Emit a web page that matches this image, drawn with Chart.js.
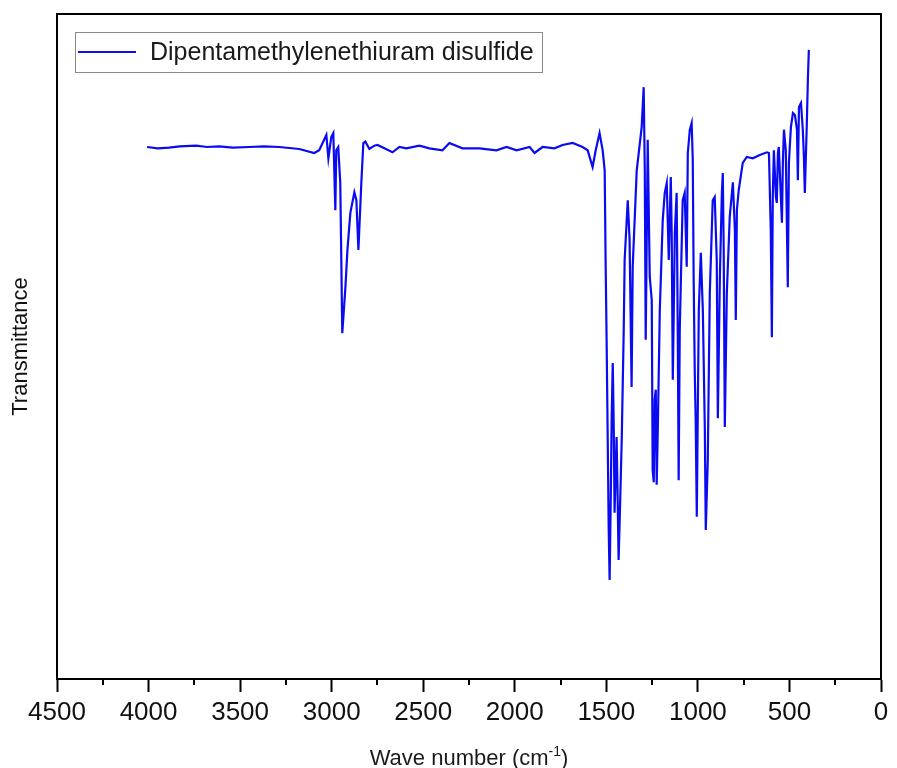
<!DOCTYPE html>
<html>
<head>
<meta charset="utf-8">
<title>FTIR spectrum</title>
<script src="https://cdn.jsdelivr.net/npm/chart.js@4.4.1/dist/chart.umd.min.js"></script>
<style>
    html, body { margin: 0; padding: 0; background: #fff; }
    #wrap { width: 897px; height: 768px; }
</style>
</head>
<body>
<div id="wrap"><canvas id="irChart" width="897" height="768"></canvas></div>
<script>
// spectrum, wave number (cm-1) against transmittance (arbitrary units)
const seriesName = 'Dipentamethylenethiuram disulfide';

const wavenumbers = [
    4008, 3950, 3888, 3830, 3740, 3680, 3614, 3540, 3450, 3370,
    3286, 3177, 3095, 3068, 3029,
    3018, 3002, 2991, 2980, 2975, 2964, 2953, 2942, 2925, 2914,
    2898, 2876, 2865, 2854, 2838, 2827, 2816, 2794, 2767, 2750,
    2712, 2668, 2630, 2592, 2521, 2466, 2395, 2357, 2286, 2193,
    2100, 2045, 1990, 1919, 1892, 1848, 1783, 1739, 1684, 1630,
    1602, 1575, 1558, 1537, 1520, 1509, 1504, 1498, 1493, 1487,
    1482, 1476, 1471, 1465, 1460, 1455, 1449, 1444, 1438, 1433,
    1427, 1416, 1405, 1400, 1383, 1373, 1362, 1356, 1334, 1323,
    1307, 1296, 1290, 1285, 1280, 1274, 1263, 1252, 1247, 1241,
    1236, 1230, 1225, 1219, 1208, 1192, 1181, 1170, 1159, 1148,
    1143, 1137, 1126, 1116, 1110, 1105, 1099, 1083, 1072, 1061,
    1055, 1044, 1034, 1028, 1023, 1017, 1012, 1006, 1001, 995,
    984, 973, 962, 957, 946, 935, 919, 908, 897, 891,
    880, 869, 864, 859, 853, 842, 826, 809, 798, 793,
    787, 777, 755, 733, 700, 662, 623, 612, 602, 596,
    591, 585, 574, 569, 563, 558, 547, 541, 536, 530,
    520, 509, 503, 492, 481, 470, 459, 454, 448, 437,
    427, 421, 416, 405, 399, 394
];

const transmittance = [
    80.0, 79.8, 79.9, 80.1, 80.2, 80.0, 80.1, 79.9, 80.0, 80.1,
    80.0, 79.7, 79.1, 79.5, 81.8,
    78.3, 81.5, 82.1, 70.5, 79.5, 80.0, 74.6, 52.0, 58.9, 64.5,
    70.1, 73.2, 72.0, 64.5, 74.6, 80.6, 80.8, 79.7, 80.2, 80.3,
    79.8, 79.2, 80.0, 79.8, 80.2, 79.8, 79.5, 80.6, 79.8, 79.8,
    79.5, 80.0, 79.5, 80.0, 79.1, 80.0, 79.8, 80.3, 80.6, 80.0,
    79.5, 77.0, 79.5, 82.1, 79.5, 76.5, 63.0, 49.9, 37.4, 22.4,
    14.9, 26.9, 38.9, 47.5, 38.9, 25.0, 31.4, 36.4, 26.9, 17.9,
    23.9, 35.9, 52.5, 63.0, 72.0, 66.0, 43.9, 62.0, 76.5, 79.1,
    83.0, 89.0, 76.5, 51.0, 64.5, 81.1, 60.5, 57.0, 31.4, 29.6,
    42.0, 43.5, 29.2, 37.4, 55.5, 69.0, 73.1, 74.6, 63.0, 75.5,
    67.1, 45.0, 67.1, 73.1, 52.5, 29.9, 52.5, 72.0, 73.1, 62.0,
    79.1, 82.6, 83.6, 78.0, 60.0, 46.0, 38.9, 24.4, 38.9, 55.5,
    64.1, 55.5, 37.4, 22.4, 32.9, 58.0, 72.0, 72.5, 63.0, 39.2,
    60.5, 73.1, 76.1, 64.5, 37.9, 58.0, 69.5, 74.7, 67.5, 54.0,
    70.5, 73.5, 77.6, 78.5, 78.3, 78.8, 79.2, 79.1, 67.5, 51.4,
    72.5, 79.5, 72.5, 71.6, 79.1, 80.0, 72.5, 68.6, 77.6, 82.6,
    79.5, 58.9, 77.6, 83.0, 85.1, 84.8, 82.6, 75.0, 86.0, 86.6,
    82.6, 78.5, 73.1, 83.6, 90.5, 94.6
];

const xTickLabels = [0, 500, 1000, 1500, 2000, 2500, 3000, 3500, 4000, 4500];
const xMinorTicks = [250, 750, 1250, 1750, 2250, 2750, 3250, 3750, 4250];

const FONT = "'Liberation Sans', Arial, sans-serif";

// box around the plot, minor ticks, inset legend and the x axis title
const framePlugin = {
    id: 'frame',
    afterDraw(chart) {
        const ctx = chart.ctx;
        const area = chart.chartArea;
        const xs = chart.scales.x;
        ctx.save();

        ctx.strokeStyle = '#000';
        ctx.lineWidth = 2;
        ctx.beginPath();
        ctx.moveTo(area.left, area.top);
        ctx.lineTo(area.right, area.top);
        ctx.lineTo(area.right, area.bottom);
        ctx.stroke();

        ctx.beginPath();
        xMinorTicks.forEach(v => {
            const px = Math.round(xs.getPixelForValue(v));
            ctx.moveTo(px, area.bottom);
            ctx.lineTo(px, area.bottom + 6);
        });
        ctx.stroke();

        // legend
        const ds = chart.data.datasets[0];
        ctx.lineWidth = 1;
        ctx.strokeStyle = '#8a8a8a';
        ctx.strokeRect(75.5, 32.5, 467, 40);
        ctx.strokeStyle = ds.borderColor;
        ctx.lineWidth = 2;
        ctx.beginPath();
        ctx.moveTo(78, 52);
        ctx.lineTo(136, 52);
        ctx.stroke();
        ctx.fillStyle = '#1a1a1a';
        ctx.font = '25px ' + FONT;
        ctx.textBaseline = 'middle';
        ctx.textAlign = 'left';
        ctx.fillText(ds.label, 150, 53);

        // x title with superscript
        const main = 'Wave number (cm';
        const sup = '-1';
        const close = ')';
        ctx.font = '22px ' + FONT;
        const wMain = ctx.measureText(main).width;
        const wClose = ctx.measureText(close).width;
        ctx.font = '14px ' + FONT;
        const wSup = ctx.measureText(sup).width;
        const total = wMain + wSup + wClose;
        let x = (area.left + area.right) / 2 - total / 2;
        const base = 765;
        ctx.textBaseline = 'alphabetic';
        ctx.font = '22px ' + FONT;
        ctx.fillText(main, x, base);
        x += wMain;
        ctx.font = '14px ' + FONT;
        ctx.fillText(sup, x, base - 9);
        x += wSup;
        ctx.font = '22px ' + FONT;
        ctx.fillText(close, x, base);

        ctx.restore();
    }
};

const ctx = document.getElementById('irChart').getContext('2d');

const irChart = new Chart(ctx, {
    type: 'line',
    data: {
        datasets: [{
            label: seriesName,
            data: wavenumbers.map((w, i) => ({ x: w, y: transmittance[i] })),
            borderColor: '#0b0bf2',
            borderWidth: 2.2,
            pointRadius: 0,
            tension: 0,
            fill: false
        }]
    },
    options: {
        responsive: false,
        animation: false,
        layout: { padding: { top: 14, right: 16, left: 0, bottom: 0 } },
        plugins: {
            legend: { display: false },
            tooltip: { enabled: false }
        },
        scales: {
            x: {
                type: 'linear',
                reverse: true,
                min: 0,
                max: 4500,
                afterBuildTicks: scale => {
                    scale.ticks = xTickLabels.map(v => ({ value: v }));
                },
                afterFit: scale => { scale.height = 89; },
                ticks: {
                    color: '#111',
                    font: { family: FONT, size: 26 },
                    padding: 5,
                    maxRotation: 0,
                    autoSkip: false,
                    callback: value => String(value)
                },
                grid: {
                    display: true,
                    drawOnChartArea: false,
                    drawTicks: true,
                    tickLength: 13,
                    tickWidth: 2,
                    tickColor: '#000'
                },
                border: { display: true, color: '#000', width: 2 },
                title: { display: false }
            },
            y: {
                min: 0,
                max: 100,
                afterFit: scale => { scale.width = 57; },
                ticks: { display: false },
                grid: { display: false },
                border: { display: true, color: '#000', width: 2 },
                title: {
                    display: true,
                    text: 'Transmittance',
                    color: '#111',
                    font: { family: FONT, size: 22 },
                    padding: { top: 8, bottom: 0 }
                }
            }
        }
    },
    plugins: [framePlugin]
});
</script>
</body>
</html>
